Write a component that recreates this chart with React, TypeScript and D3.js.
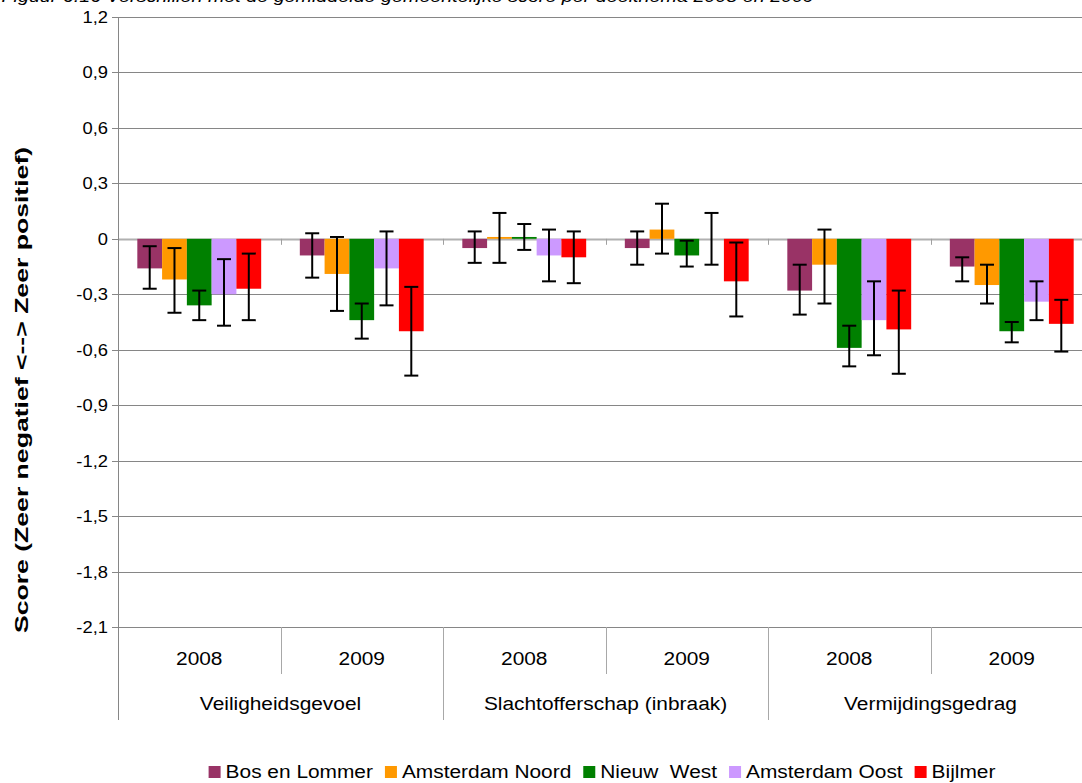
import React, { useEffect, useRef } from 'react';
import * as d3 from 'd3';

const years = ['2008', '2009', '2008', '2009', '2008', '2009'];
const themes = ['Veiligheidsgevoel', 'Slachtofferschap (inbraak)', 'Vermijdingsgedrag'];
const seriesNames = ['Bos en Lommer', 'Amsterdam Noord', 'Nieuw  West', 'Amsterdam Oost', 'Bijlmer'];
const seriesColors = ['#993366', '#FF9900', '#008000', '#CC99FF', '#FF0000'];

const bosValues = [-0.16, -0.09, -0.05, -0.05, -0.28, -0.15];
const noordValues = [-0.22, -0.19, 0.01, 0.05, -0.14, -0.25];
const nieuwWestValues = [-0.36, -0.44, 0.01, -0.09, -0.59, -0.5];
const oostValues = [-0.3, -0.16, -0.09, 0.0, -0.44, -0.34];
const bijlmerValues = [-0.27, -0.5, -0.1, -0.23, -0.49, -0.46];

const bosLow = [-0.27, -0.21, -0.13, -0.14, -0.41, -0.23];
const bosHigh = [-0.04, 0.03, 0.04, 0.04, -0.14, -0.1];
const noordLow = [-0.4, -0.39, -0.13, -0.08, -0.35, -0.35];
const noordHigh = [-0.05, 0.01, 0.14, 0.19, 0.05, -0.14];
const nieuwWestLow = [-0.44, -0.54, -0.06, -0.15, -0.69, -0.56];
const nieuwWestHigh = [-0.28, -0.35, 0.08, -0.01, -0.47, -0.45];
const oostLow = [-0.47, -0.36, -0.23, -0.14, -0.63, -0.44];
const oostHigh = [-0.11, 0.04, 0.05, 0.14, -0.23, -0.23];
const bijlmerLow = [-0.44, -0.74, -0.24, -0.42, -0.73, -0.61];
const bijlmerHigh = [-0.08, -0.26, 0.04, -0.02, -0.28, -0.33];

const yTicks = [1.2, 0.9, 0.6, 0.3, 0, -0.3, -0.6, -0.9, -1.2, -1.5, -1.8, -2.1];

const titleText =
  'Figuur 6.16 Verschillen met de gemiddelde gemeentelijke score per deelthema 2008 en 2009';
const yTitle = 'Score (Zeer negatief <--> Zeer positief)';

const FONT = '"Liberation Sans", Arial, sans-serif';

export default function App() {
  const svgRef = useRef<SVGSVGElement>(null);
  const width = 1082;
  const height = 783;

  useEffect(() => {
    if (!svgRef.current) return;
    document.body.style.margin = '0';
    const svg = d3.select(svgRef.current);
    svg.selectAll('*').remove();

    const left = 118;
    const right = 1093;
    const top = 17;
    const bottom = 627;

    const values = [bosValues, noordValues, nieuwWestValues, oostValues, bijlmerValues];
    const lows = [bosLow, noordLow, nieuwWestLow, oostLow, bijlmerLow];
    const highs = [bosHigh, noordHigh, nieuwWestHigh, oostHigh, bijlmerHigh];

    const x0 = d3
      .scaleBand<number>()
      .domain(d3.range(years.length))
      .range([left, right])
      .padding(0);
    const x1 = d3
      .scaleBand<number>()
      .domain(d3.range(seriesNames.length))
      .range([0, x0.bandwidth()])
      .paddingInner(0)
      .paddingOuter(0.78);
    const y = d3.scaleLinear().domain([-2.1, 1.2]).range([bottom, top]);

    const fmt = (v: number) => (v === 0 ? '0' : v.toFixed(1).replace('.', ','));

    // title, mostly clipped at top (as in the source image)
    svg
      .append('text')
      .attr('transform', 'translate(814,1.5) scale(1.16,1)')
      .attr('text-anchor', 'end')
      .attr('font-family', FONT)
      .attr('font-style', 'italic')
      .attr('font-size', 17)
      .attr('fill', '#000')
      .text(titleText);

    // gridlines
    svg
      .append('g')
      .selectAll('line')
      .data(yTicks)
      .enter()
      .append('line')
      .attr('x1', left)
      .attr('x2', right)
      .attr('y1', (d) => Math.round(y(d)) + 0.5)
      .attr('y2', (d) => Math.round(y(d)) + 0.5)
      .attr('stroke', (d) => (d === 0 ? '#b0b0b0' : '#868686'))
      .attr('stroke-width', (d) => (d === 0 ? 2 : 1));

    // small ticks at zero line on category boundaries
    svg
      .append('g')
      .selectAll('line')
      .data(d3.range(1, years.length))
      .enter()
      .append('line')
      .attr('x1', (i) => Math.round(left + i * x0.bandwidth()) + 0.5)
      .attr('x2', (i) => Math.round(left + i * x0.bandwidth()) + 0.5)
      .attr('y1', y(0))
      .attr('y2', y(0) + 6)
      .attr('stroke', '#a0a0a0');

    // y axis line + ticks
    svg
      .append('line')
      .attr('x1', left + 0.5)
      .attr('x2', left + 0.5)
      .attr('y1', top)
      .attr('y2', 720)
      .attr('stroke', '#868686');
    svg
      .append('g')
      .selectAll('line')
      .data(yTicks)
      .enter()
      .append('line')
      .attr('x1', left - 6)
      .attr('x2', left)
      .attr('y1', (d) => Math.round(y(d)) + 0.5)
      .attr('y2', (d) => Math.round(y(d)) + 0.5)
      .attr('stroke', '#868686');
    svg
      .append('g')
      .selectAll('text')
      .data(yTicks)
      .enter()
      .append('text')
      .attr('transform', (d) => `translate(108,${y(d) + 6}) scale(1.08,1)`)
      .attr('text-anchor', 'end')
      .attr('font-family', FONT)
      .attr('font-size', 17)
      .attr('fill', '#000')
      .text((d) => fmt(d));

    // y title
    svg
      .append('text')
      .attr('transform', 'translate(28,390) rotate(-90) scale(1.4,1)')
      .attr('text-anchor', 'middle')
      .attr('font-family', FONT)
      .attr('font-weight', 'bold')
      .attr('font-size', 19)
      .attr('fill', '#000')
      .text(yTitle);

    // category separators
    svg
      .append('g')
      .selectAll('line')
      .data(d3.range(1, years.length + 1))
      .enter()
      .append('line')
      .attr('x1', (i) => Math.round(left + i * x0.bandwidth()) + 0.5)
      .attr('x2', (i) => Math.round(left + i * x0.bandwidth()) + 0.5)
      .attr('y1', bottom)
      .attr('y2', (i) => (i % 2 === 0 ? 720 : 674))
      .attr('stroke', '#a8a8a8');

    // year labels
    svg
      .append('g')
      .selectAll('text')
      .data(years)
      .enter()
      .append('text')
      .attr('transform', (_d, i) => `translate(${(x0(i) as number) + x0.bandwidth() / 2},665) scale(1.16,1)`)
      .attr('text-anchor', 'middle')
      .attr('font-family', FONT)
      .attr('font-size', 18)
      .attr('fill', '#000')
      .text((d) => d);

    // theme labels
    svg
      .append('g')
      .selectAll('text')
      .data(themes)
      .enter()
      .append('text')
      .attr('transform', (_d, i) => `translate(${left + (i * 2 + 1) * x0.bandwidth()},710) scale(1.16,1)`)
      .attr('text-anchor', 'middle')
      .attr('font-family', FONT)
      .attr('font-size', 18)
      .attr('fill', '#000')
      .text((d) => d);

    // bars
    const bars = svg.append('g');
    values.forEach((vals, s) => {
      bars
        .selectAll(`.bar-${s}`)
        .data(vals)
        .enter()
        .append('rect')
        .attr('class', `bar-${s}`)
        .attr('x', (_d, i) => (x0(i) as number) + (x1(s) as number))
        .attr('width', x1.bandwidth())
        .attr('y', (d) => y(Math.max(0, d)))
        .attr('height', (d) => Math.abs(y(d) - y(0)))
        .attr('fill', seriesColors[s]);
    });

    // error bars
    const errs = svg.append('g').attr('stroke', '#000').attr('stroke-width', 2);
    values.forEach((vals, s) => {
      vals.forEach((_v, i) => {
        const cx = (x0(i) as number) + (x1(s) as number) + x1.bandwidth() / 2;
        const lo = y(lows[s][i]);
        const hi = y(highs[s][i]);
        errs.append('line').attr('x1', cx).attr('x2', cx).attr('y1', hi).attr('y2', lo);
        errs.append('line').attr('x1', cx - 7).attr('x2', cx + 7).attr('y1', hi).attr('y2', hi);
        errs.append('line').attr('x1', cx - 7).attr('x2', cx + 7).attr('y1', lo).attr('y2', lo);
      });
    });

    // legend
    const legend = svg.append('g');
    const items = legend
      .selectAll('g')
      .data(seriesNames)
      .enter()
      .append('g');
    items
      .append('rect')
      .attr('width', 12)
      .attr('height', 12)
      .attr('y', -12)
      .attr('fill', (_d, i) => seriesColors[i]);
    items
      .append('text')
      .attr('transform', 'translate(17,0) scale(1.16,1)')
      .attr('font-family', FONT)
      .attr('font-size', 18)
      .attr('fill', '#000')
      .style('white-space', 'pre')
      .text((d) => d);
    let cursor = 0;
    const offsets: number[] = [];
    items.each(function () {
      const t = d3.select(this).select('text').node() as SVGTextElement;
      offsets.push(cursor);
      cursor += 17 + t.getComputedTextLength() * 1.16 + 12;
    });
    const total = cursor - 12;
    const startX = 602 - total / 2;
    items.attr('transform', (_d, i) => `translate(${startX + offsets[i]},778)`);
  }, []);

  return (
    <svg
      ref={svgRef}
      width={width}
      height={height}
      style={{ position: 'absolute', left: 0, top: 0, background: '#fff' }}
    />
  );
}
